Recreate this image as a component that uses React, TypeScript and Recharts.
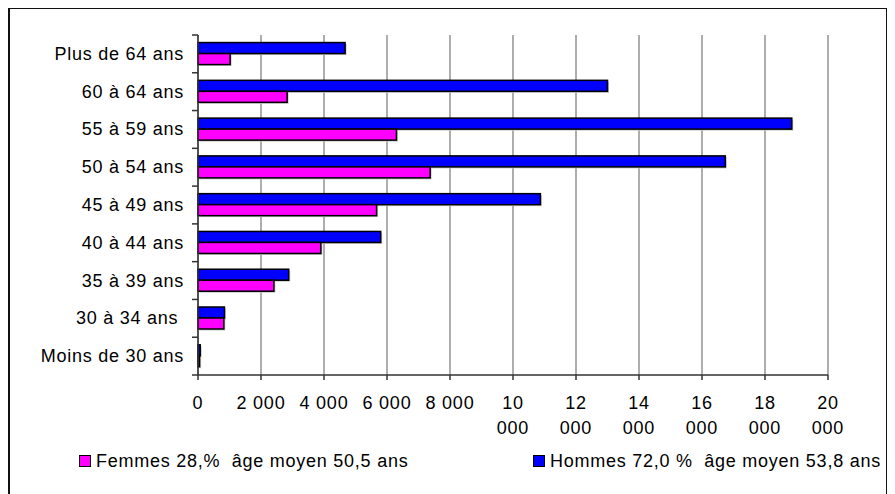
import { BarChart, Bar, XAxis, YAxis, CartesianGrid, Legend } from "recharts"

const ageGroups = [
  "Plus de 64 ans",
  "60 à 64 ans",
  "55 à 59 ans",
  "50 à 54 ans",
  "45 à 49 ans",
  "40 à 44 ans",
  "35 à 39 ans",
  "30 à 34 ans ",
  "Moins de 30 ans",
]
const hommes = [4670, 13000, 18850, 16740, 10870, 5800, 2880, 840, 70]
const femmes = [1020, 2830, 6300, 7370, 5670, 3900, 2410, 820, 50]
const xTicks = [0, 2000, 4000, 6000, 8000, 10000, 12000, 14000, 16000, 18000, 20000]

const hommesLabel = "Hommes 72,0 %  âge moyen 53,8 ans"
const femmesLabel = "Femmes 28,%  âge moyen 50,5 ans"

const FONT = '"Liberation Sans", Arial, sans-serif'
const TEXT = { fontFamily: FONT, fontSize: 18, letterSpacing: 0.75, fill: "#000" }

const data = ageGroups.map((age, i) => ({ age, hommes: hommes[i], femmes: femmes[i] }))

// "2 000" on one line, "10 000" split over two lines like the original
function fmtTick(v: number): string[] {
  if (v === 0) return ["0"]
  const thousands = Math.floor(v / 1000)
  if (thousands >= 10) return [String(thousands), "000"]
  return [`${thousands} 000`]
}

function XTick(props: any) {
  const { x, y, payload } = props
  const lines = fmtTick(payload.value)
  return (
    <text x={x} y={y} textAnchor="middle" style={TEXT}>
      {lines.map((l, i) => (
        <tspan key={i} x={x} dy={i === 0 ? 27 : 25}>
          {l}
        </tspan>
      ))}
    </text>
  )
}

function YTick(props: any) {
  const { x, y, payload, index } = props
  const half = payload.offset ?? 18.9
  const axisX = x + 14
  return (
    <g>
      <line x1={axisX - 6} x2={axisX} y1={y - half} y2={y - half} stroke="#333" strokeWidth={1.5} />
      {index === ageGroups.length - 1 && (
        <line x1={axisX - 6} x2={axisX} y1={y + half} y2={y + half} stroke="#333" strokeWidth={1.5} />
      )}
      <text x={x} y={y} dy={6} textAnchor="end" style={{ ...TEXT, whiteSpace: "pre" }}>
        {payload.value}
      </text>
    </g>
  )
}

function ShadowBar(props: any) {
  const { x, y, width, height, fill } = props
  if (!width || width <= 0) return null
  return (
    <g>
      <rect x={x + 1.5} y={y + 1.5} width={width} height={height} fill="#c8c8c8" />
      <rect x={x} y={y} width={width} height={height} fill={fill} stroke="#000" strokeWidth={1.5} />
    </g>
  )
}

function LegendItem({ color, label, left }: { color: string; label: string; left: number }) {
  return (
    <div style={{ position: "absolute", left, top: 0, height: 30, display: "flex", alignItems: "center", whiteSpace: "pre" }}>
      <span
        style={{
          width: 10,
          height: 10,
          background: color,
          border: "1.5px solid #000",
          marginRight: 5,
          display: "inline-block",
        }}
      />
      <span style={{ fontFamily: FONT, fontSize: 18, letterSpacing: 0.75, color: "#000" }}>{label}</span>
    </div>
  )
}

function ChartLegend() {
  return (
    <div style={{ position: "relative", height: 30, width: 878 }}>
      <LegendItem color="#ff00ff" label={femmesLabel} left={69} />
      <LegendItem color="#0000ff" label={hommesLabel} left={523} />
    </div>
  )
}

export default function App() {
  return (
    <div
      style={{
        position: "relative",
        width: 876,
        height: 490,
        marginTop: -1,
        border: "2px solid #111",
        overflow: "hidden",
        background: "#fff",
      }}
    >
      <BarChart
        width={878}
        height={490}
        data={data}
        layout="vertical"
        margin={{ top: 26, right: 60, left: 0, bottom: 24 }}
        barCategoryGap="20%"
        barGap={0}
      >
        <CartesianGrid horizontal={false} stroke="#777" strokeWidth={1.2} />
        <XAxis
          type="number"
          domain={[0, 20000]}
          ticks={xTicks}
          interval={0}
          height={70}
          tickSize={5}
          tickMargin={2}
          axisLine={{ stroke: "#333", strokeWidth: 1.5 }}
          tickLine={{ stroke: "#333", strokeWidth: 1.5 }}
          tick={<XTick />}
        />
        <XAxis
          xAxisId="top"
          orientation="top"
          type="number"
          domain={[0, 20000]}
          height={0}
          tick={false}
          tickLine={false}
          axisLine={{ stroke: "#888", strokeWidth: 1.5 }}
        />
        <YAxis
          type="category"
          dataKey="age"
          width={188}
          tickSize={6}
          tickMargin={8}
          interval={0}
          tickLine={false}
          axisLine={{ stroke: "#333", strokeWidth: 1.5 }}
          tick={<YTick />}
        />
        <Legend
          verticalAlign="bottom"
          content={<ChartLegend />}
          wrapperStyle={{ top: 437, left: 0, width: 878, height: 30 }}
        />
        <Bar dataKey="hommes" name={hommesLabel} fill="#0000ff" shape={<ShadowBar />} isAnimationActive={false} />
        <Bar dataKey="femmes" name={femmesLabel} fill="#ff00ff" shape={<ShadowBar />} isAnimationActive={false} />
      </BarChart>
    </div>
  )
}
